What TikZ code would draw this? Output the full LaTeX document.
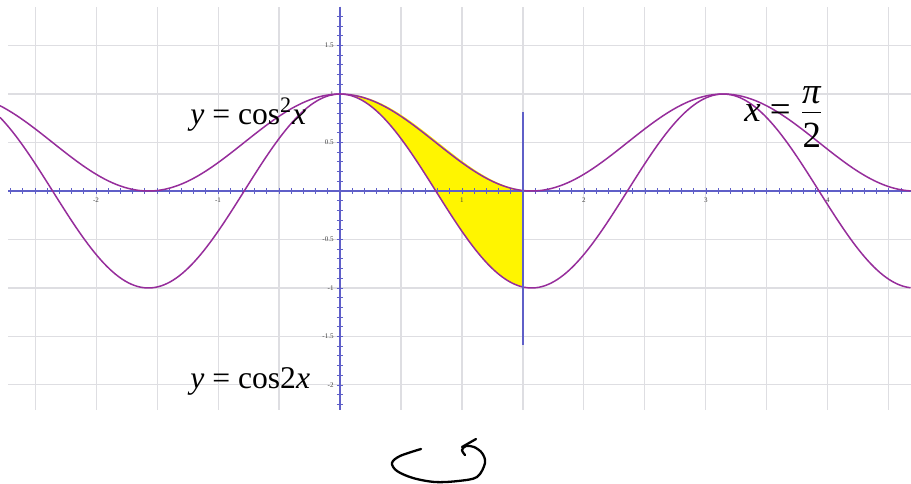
\documentclass[tikz,border=0pt]{standalone}
\usepackage{fontspec}
\setmainfont{Liberation Serif}
\definecolor{curvecol}{RGB}{150,45,155}
\definecolor{axiscol}{RGB}{95,95,200}
\definecolor{gridcol}{RGB}{222,222,226}
\definecolor{fillcol}{RGB}{255,245,0}
\tikzset{
  gridline/.style={draw=gridcol,line width=0.6pt},
  axisline/.style={draw=axiscol,line width=0.8pt},
  tickline/.style={draw=axiscol,line width=0.5pt},
  curveline/.style={draw=curvecol,line width=0.85pt},
  vline/.style={draw=axiscol,line width=0.9pt},
  ticklabel/.style={font=\fontsize{4}{5}\selectfont,text=black!75,inner sep=0pt},
  biglabel/.style={font=\fontsize{18}{21}\selectfont,inner sep=0pt},
  sketchline/.style={draw=black,line width=1.3pt,line cap=round,line join=round}
}
\begin{document}
\begin{tikzpicture}[x=0.02cm,y=-0.02cm]
\useasboundingbox[fill=white] (0,0) rectangle (911,483);
\begin{scope}[shift={(340,191)},x=2.44cm,y=1.94cm]
  % grid
  \foreach \i in {-2.5,-2,...,4.5} \draw[gridline] (\i,1.897) -- (\i,-2.258);
  \foreach \j in {-2,-1.5,...,1.5} \draw[gridline] (-2.72,\j) -- (4.6803,\j);
  % yellow region
  \fill[fillcol] plot[domain=0:1.5,samples=60] (\x,{cos(\x r)*cos(\x r)+0.02*sin(2*\x r)})
     -- plot[domain=1.5:0,samples=60] (\x,{cos(2*\x r)}) -- cycle;
  % axes
  \draw[axisline] (-2.72,0) -- (4.6803,0);
  \draw[axisline] (0,1.9) -- (0,-2.258);
  \foreach \i in {-27,...,46} \draw[tickline] (\i/10,0.03) -- (\i/10,-0.03);
  \foreach \j in {-22,...,18} \draw[tickline] (-0.025,\j/10) -- (0.025,\j/10);
  % tick labels
  \foreach \k in {-2,-1,1,2,3,4} \node[ticklabel] (xl\k) at (\k,-0.09) {\k};
  \foreach \j/\t in {1.5/1.5,1/1,0.5/0.5,-0.5/-0.5,-1/-1,-1.5/-1.5,-2/-2}
     \node[ticklabel,anchor=east] (yl\t) at (-0.05,\j) {\t};
  % curves
  \draw[curveline] plot[domain=-2.787:4.6803,samples=300] (\x,{cos(\x r)*cos(\x r)});
  \draw[curveline] plot[domain=-2.787:4.6803,samples=300] (\x,{cos(2*\x r)});
  % vertical line
  \coordinate (vtop) at (1.5,0.814);
  \coordinate (vbot) at (1.5,-1.588);
  \draw[vline] (vtop) -- (vbot);
\end{scope}
% labels
\node[biglabel,anchor=base west] (lab1) at (190,124) {\textit{y} = cos\textsuperscript{2}\textit{x}};
\node[biglabel,anchor=base west] (lab2) at (190,388) {\textit{y} = cos2\textit{x}};
\node[font=\fontsize{21}{24}\selectfont,inner sep=0pt,anchor=base west] (lab3) at (744,121)
  {\textit{x} = $\displaystyle\frac{\hbox{\raisebox{-0.2em}[0pt][0pt]{\textit{π}}}}{\hbox{\rule{0pt}{0.9em}2}}$};
% hand-drawn sketch
\draw[sketchline] plot[smooth,tension=0.55] coordinates {(421,449) (400,456) (392,463) (397,471) (413,478) (435,482) (458,481) (477,477) (485,463) (482,453) (474,447) (466,446) (462,450) (465,455)};
\draw[sketchline] (462,447) -- (476,439);
\end{tikzpicture}
\end{document}
